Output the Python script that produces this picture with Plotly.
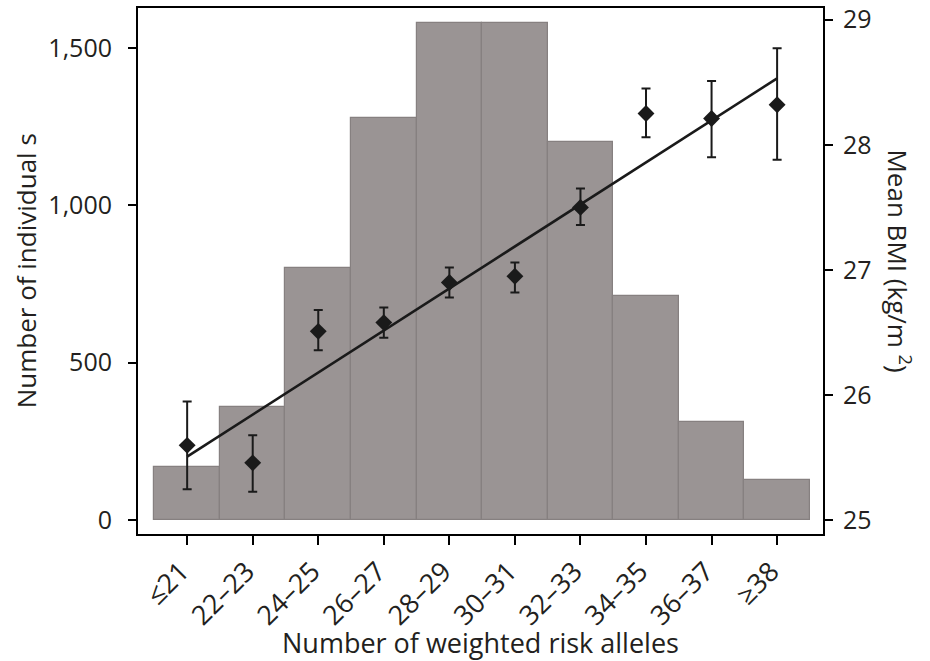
import plotly.graph_objects as go

categories = ["≤21", "22–23", "24–25", "26–27", "28–29", "30–31", "32–33", "34–35", "36–37", "≥38"]
counts = [168, 359, 801, 1277, 1579, 1579, 1201, 712, 311, 127]
bmi_mean = [25.60, 25.46, 26.51, 26.58, 26.90, 26.95, 27.50, 28.25, 28.21, 28.32]
bmi_upper = [25.95, 25.68, 26.68, 26.70, 27.02, 27.06, 27.65, 28.45, 28.51, 28.77]
bmi_lower = [25.25, 25.23, 26.36, 26.46, 26.78, 26.82, 27.36, 28.06, 27.90, 27.88]
fit_x = [categories[0], categories[-1]]
fit_y = [25.51, 28.53]

left_ticks = [0, 500, 1000, 1500]
right_ticks = [25, 26, 27, 28, 29]

err_plus = [u - m for u, m in zip(bmi_upper, bmi_mean)]
err_minus = [m - l for m, l in zip(bmi_mean, bmi_lower)]

TXT = "#231f20"
FONT = "Open Sans"

fig = go.Figure()
fig.add_trace(go.Bar(
    x=categories, y=counts, yaxis="y",
    marker=dict(color="#9a9494", line=dict(color="#868080", width=1.2)),
    width=1.0, showlegend=False, hoverinfo="skip",
))
fig.add_trace(go.Scatter(
    x=fit_x, y=fit_y, yaxis="y2", mode="lines",
    line=dict(color="#1a1a1a", width=2.6), showlegend=False,
))
fig.add_trace(go.Scatter(
    x=categories, y=bmi_mean, yaxis="y2", mode="markers",
    marker=dict(symbol="diamond", size=13, color="#1a1a1a"),
    error_y=dict(type="data", array=err_plus, arrayminus=err_minus,
                 color="#1a1a1a", thickness=2, width=4.5),
    showlegend=False,
))

fig.update_layout(
    width=930, height=661,
    margin=dict(l=138, r=107, t=8, b=127),
    paper_bgcolor="white", plot_bgcolor="white",
    font=dict(family=FONT, color=TXT, size=25),
    bargap=0,
    xaxis=dict(
        type="category", range=[-0.75, 9.7],
        showline=True, linecolor="black", linewidth=2, mirror=True,
        ticks="outside", ticklen=9, tickwidth=2, tickcolor="black",
        tickangle=-45, tickfont=dict(size=27, family=FONT, color=TXT),
        ticklabelshift=-6,
        showgrid=False, zeroline=False, automargin=False,
    ),
    yaxis=dict(
        range=[-44.5, 1627], tickvals=left_ticks, tickformat=",",
        showline=True, linecolor="black", linewidth=2,
        ticks="outside", ticklen=8, tickwidth=2, tickcolor="black",
        tickfont=dict(size=25, family=FONT, color=TXT),
        ticklabelstandoff=11,
        showgrid=False, zeroline=False, automargin=False,
    ),
    yaxis2=dict(
        range=[24.892, 29.092], tickvals=right_ticks,
        overlaying="y", side="right",
        showline=True, linecolor="black", linewidth=2,
        ticks="outside", ticklen=8, tickwidth=2, tickcolor="black",
        tickfont=dict(size=25, family=FONT, color=TXT),
        ticklabelstandoff=5,
        showgrid=False, zeroline=False, automargin=False,
    ),
    annotations=[
        dict(text="Number of weighted risk alleles", xref="paper", yref="paper",
             x=0.5, y=-0.2072, xanchor="center", yanchor="middle", showarrow=False,
             font=dict(size=27, family=FONT, color=TXT)),
        dict(text="Number of individual s", xref="paper", yref="paper",
             x=-0.163, y=0.5, xanchor="center", yanchor="middle", showarrow=False,
             textangle=-90, font=dict(size=26, family=FONT, color=TXT)),
        dict(text="Mean BMI (kg/m <sup>2</sup>)", xref="paper", yref="paper",
             x=1.1095, y=0.52, xanchor="center", yanchor="middle", showarrow=False,
             textangle=90, font=dict(size=26, family=FONT, color=TXT)),
    ],
)

post = ("document.body.style.margin='0';document.body.style.padding='0';"
        "var d=document.querySelector('.plotly-graph-div');"
        "d.style.position='absolute';d.style.left='0px';d.style.top='0px';")

fig.write_html("out.html", post_script=post, config={"displayModeBar": False})
